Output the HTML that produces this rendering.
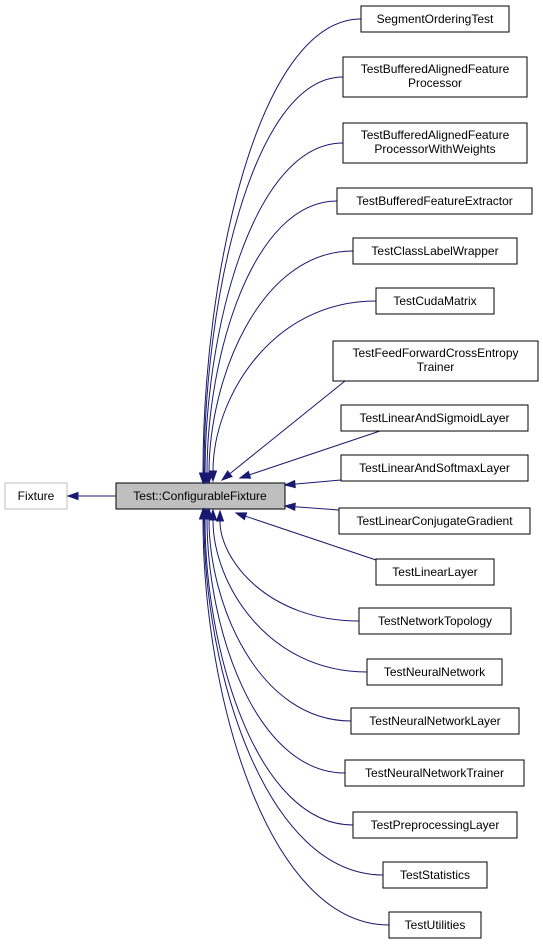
<!DOCTYPE html>
<html><head><meta charset="utf-8"><style>
body{margin:0;background:#fff;width:543px;height:945px;overflow:hidden}
svg{display:block}
text{font-family:"Liberation Sans",Helvetica,sans-serif;font-size:12px;text-anchor:middle}
</style></head><body>
<svg id="s" width="543" height="945" xmlns="http://www.w3.org/2000/svg">
<rect x="5" y="483" width="62" height="26" fill="#fff" stroke="#bfbfbf"/>
<text x="36" y="500">Fixture</text>
<rect x="116" y="483" width="169" height="26" fill="#bfbfbf" stroke="#000"/>
<text x="200" y="500">Test::ConfigurableFixture</text>
<g id="edges" fill="none" stroke="#191970" stroke-width="1"></g>
<g id="heads" fill="#191970" stroke="#191970"></g>
<g id="nodes"></g>
</svg>
<script>
var N=[
["SegmentOrderingTest",361,6,148,26,203,483],
["TestBufferedAlignedFeature|Processor",343,57,184,40,204,483],
["TestBufferedAlignedFeature|ProcessorWithWeights",343,123,184,40,205,483],
["TestBufferedFeatureExtractor",337,188,195,26,207,483],
["TestClassLabelWrapper",353,238,164,26,209,483],
["TestCudaMatrix",376,288,118,26,213,481],
["TestFeedForwardCrossEntropy|Trainer",333,341,205,40,222,480,1,345,381],
["TestLinearAndSigmoidLayer",341,405,187,26,240,478,1,380,431],
["TestLinearAndSoftmaxLayer",341,455,187,26,285,485,1,341,480],
["TestLinearConjugateGradient",339,508,191,26,285,506,1,339,510],
["TestLinearLayer",376,559,118,26,236,513,1,376,560],
["TestNetworkTopology",359,608,152,26,220,511],
["TestNeuralNetwork",367,659,135,26,213,510],
["TestNeuralNetworkLayer",351,708,168,26,209,509],
["TestNeuralNetworkTrainer",345,760,179,26,207,509],
["TestPreprocessingLayer",353,812,164,26,205,509],
["TestStatistics",383,862,104,26,204,509],
["TestUtilities",389,912,92,26,203,509]];
var ns="http://www.w3.org/2000/svg";
function el(t,a,p){var e=document.createElementNS(ns,t);for(var k in a)e.setAttribute(k,a[k]);document.getElementById(p).appendChild(e);return e;}
N.forEach(function(n){
 var x=n[1],y=n[2],w=n[3],h=n[4],ex=n[5],ey=n[6];
 el("rect",{x:x,y:y,width:w,height:h,fill:"#fff",stroke:"#000"},"nodes");
 var L=n[0].split("|");
 L.forEach(function(s,i){var t=el("text",{x:x+w/2,y:y+(L.length==1?17:16+i*14)},"nodes");t.textContent=s;});
 var sx=x,sy=y+h/2,c1x,c1y,c2x,c2y,dx,dy;
 if(n[7]){sx=n[8];sy=n[9];c1x=sx+(ex-sx)*0.33;c1y=sy+(ey-sy)*0.33;c2x=sx+(ex-sx)*0.66;c2y=sy+(ey-sy)*0.66;}
 else{c1x=ex+(sx-ex)*0.35;c1y=sy;c2x=ex;c2y=ey+(sy-ey)*0.45;}
 dx=ex-c2x;dy=ey-c2y;var l=Math.sqrt(dx*dx+dy*dy)||1;dx/=l;dy/=l;
 var bx=ex-dx*10,by=ey-dy*10;
 el("path",{d:"M"+sx+","+sy+"C"+c1x+","+c1y+" "+c2x+","+c2y+" "+bx+","+by},"edges");
 var px=-dy*3.5,py=dx*3.5;
 el("polygon",{points:(bx+px)+","+(by+py)+" "+ex+","+ey+" "+(bx-px)+","+(by-py)},"heads");
});
el("line",{x1:116,y1:496,x2:78,y2:496},"edges");
el("polygon",{points:"78,492.5 68,496 78,499.5"},"heads");
</script>
</body></html>
